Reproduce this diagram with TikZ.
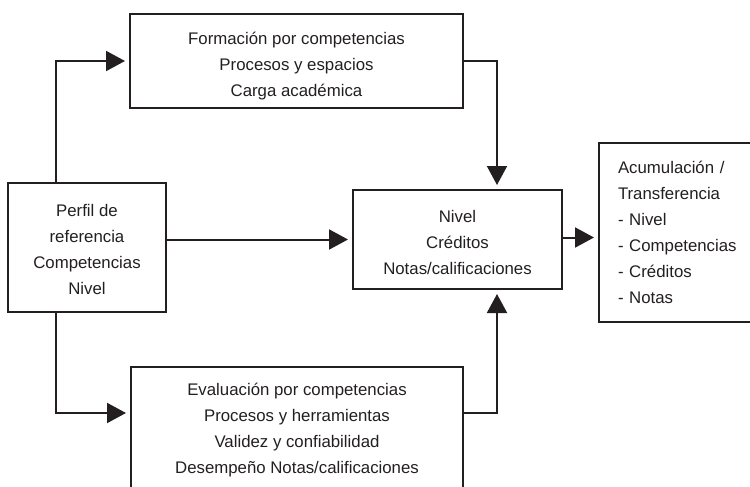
\documentclass[tikz,border=0pt]{standalone}
\usepackage{fontspec}
\setmainfont{Liberation Sans}
\usetikzlibrary{arrows.meta,calc}
\definecolor{ink}{HTML}{231F20}
\begin{document}
\begin{tikzpicture}[x=1pt,y=-1pt,
  box/.style={draw=ink,line width=2pt,align=center,inner sep=0pt,text=ink,
    font=\fontsize{16.8}{26}\selectfont},
  arr/.style={draw=ink,line width=2pt,-{Triangle[length=19pt,width=20pt]},shorten >=4pt}]
\useasboundingbox (0,0) rectangle (750,487);
\node[box,minimum width=333,minimum height=94] (top) at (296.5,61)
  {\rule{0pt}{22pt}Formación por competencias\\Procesos y espacios\\Carga académica};
\node[box,minimum width=158,minimum height=129] (left) at (87,247.5)
  {\rule{0pt}{16pt}Perfil de\\referencia\\Competencias\\Nivel};
\node[box,minimum width=209,minimum height=99] (mid) at (457.5,239.5)
  {\rule{0pt}{18pt}Nivel\\Créditos\\Notas/calificaciones};
\node[box,minimum width=332,minimum height=122] (bot) at (297,428)
  {\rule{0pt}{16pt}Evaluación por competencias\\Procesos y herramientas\\Validez y confiabilidad\\Desempeño Notas/calificaciones};
\node[box,align=left,anchor=west,text width=163pt,inner xsep=19pt,minimum height=179] (acc) at (598,232.5)
  {Acumulación /\\Transferencia\\- Nivel\\- Competencias\\- Créditos\\- Notas};
\coordinate (lt) at (56,183);
\coordinate (lb) at (56,312);
\draw[arr] (lt) |- (top.west);
\draw[arr] (lb) |- ([yshift=15pt]bot.west);
\draw[arr] (top.east) -| ([xshift=39.5pt]mid.north);
\draw[arr] ([yshift=15pt]bot.east) -| ([xshift=39.5pt]mid.south);
\draw[arr] (left.east |- mid.west) -- (mid.west);
\draw[arr] ([yshift=2pt]mid.east) -- ([yshift=2pt]mid.east -| acc.west);
\end{tikzpicture}
\end{document}
